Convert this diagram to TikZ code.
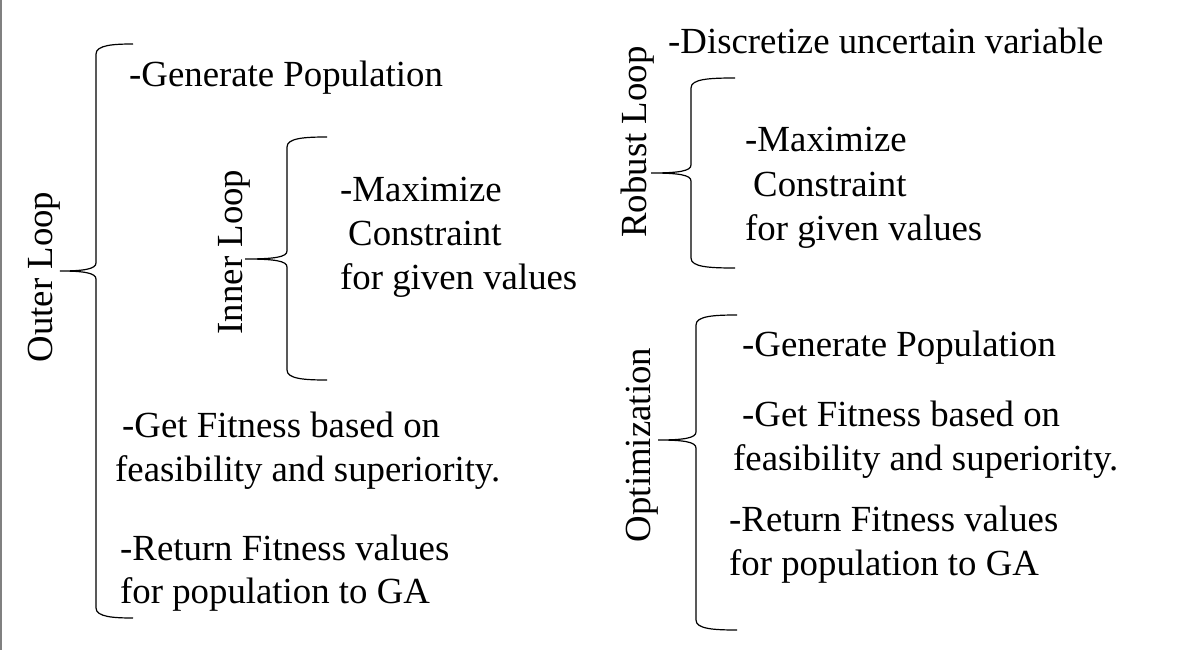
\documentclass[tikz,border=0pt]{standalone}
\usepackage{fontspec}
\setmainfont{Liberation Serif}
\newcommand\bracepath[6]{% #1 tip x, #2 vertical x, #3 top y, #4 cusp y, #5 bottom y, #6 cusp x
  \draw[bracestyle] (#1,#3) .. controls (#2+18,#3) and (#2,#3+1) .. (#2,#3+10)
    -- (#2,#4-8) .. controls (#2,#4-2) and (#2-12,#4) .. (#6,#4)
    .. controls (#2-12,#4) and (#2,#4+2) .. (#2,#4+8)
    -- (#2,#5-10) .. controls (#2,#5-1) and (#2+18,#5) .. (#1,#5);}
\begin{document}
\begin{tikzpicture}[x=1pt,y=-1pt,
  txt/.style={anchor=base west, inner sep=0pt, font=\fontsize{36.8}{44}\selectfont},
  lbl/.style={rotate=90, inner sep=0pt, font=\fontsize{36.8}{44}\selectfont},
  bracestyle/.style={line width=1.2pt, black}]
\useasboundingbox (0,0) rectangle (1186,650);
\draw[gray, line width=1.5pt] (1,0) -- (1,650);

% Outer loop
\node[lbl] (outer) at (44,277) {Outer Loop};
\bracepath{133}{96}{44}{271}{618}{60}
\node[txt] (genL) at (129,87) {-Generate Population};

% Inner loop
\node[lbl] (inner) at (234,252) {Inner Loop};
\bracepath{327}{287}{137}{259}{380}{245}
\node[txt] (maxL1) at (340,201) {-Maximize};
\node[txt] (maxL2) at (348,245) {Constraint};
\node[txt] (maxL3) at (340,289) {for given values};

\node[txt] (fitL1) at (122,437) {-Get Fitness based on};
\node[txt] (fitL2) at (115,481) {feasibility and superiority.};
\node[txt] (retL1) at (120,560) {-Return Fitness values};
\node[txt] (retL2) at (120,603) {for population to GA};

% Robust loop
\node[txt] (disc) at (668,54) {-Discretize uncertain variable};
\node[lbl] (robust) at (638,142) {Robust Loop};
\bracepath{735}{691}{78}{173}{268}{651}
\node[txt] (maxR1) at (745,152) {-Maximize};
\node[txt] (maxR2) at (753,196) {Constraint};
\node[txt] (maxR3) at (745,240) {for given values};

% Optimization
\node[lbl] (optim) at (642,445) {Optimization};
\bracepath{737}{696}{315}{440}{630}{658}
\node[txt] (genR) at (742,356) {-Generate Population};
\node[txt] (fitR1) at (742,426) {-Get Fitness based on};
\node[txt] (fitR2) at (733,470) {feasibility and superiority.};
\node[txt] (retR1) at (729,531) {-Return Fitness values};
\node[txt] (retR2) at (729,575) {for population to GA};
\end{tikzpicture}
\end{document}
